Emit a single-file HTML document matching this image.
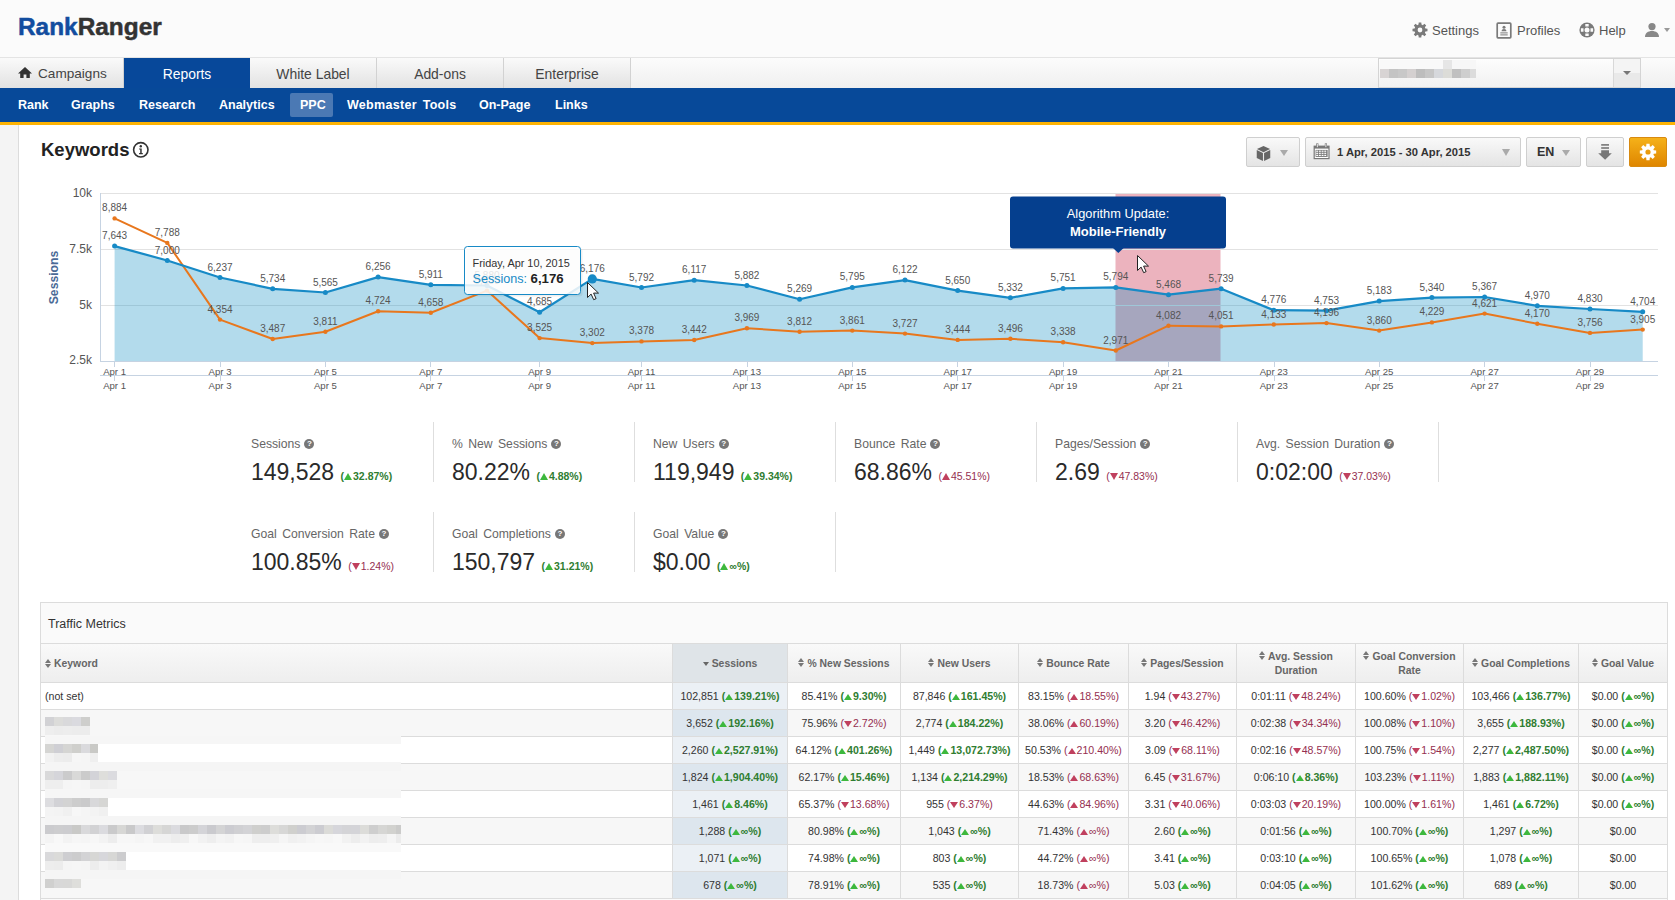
<!DOCTYPE html><html><head><meta charset="utf-8"><title>Rank Ranger</title><style>
*{box-sizing:border-box;margin:0;padding:0}
html,body{width:1675px;height:900px;overflow:hidden;background:#fff}
body{font-family:"Liberation Sans",sans-serif;color:#333;position:relative}
.a{position:absolute;white-space:nowrap}
#hdr{position:absolute;left:0;top:0;width:1675px;height:58px;background:#fbfbfb}
#logo{left:18px;top:12.5px;font-size:24.4px;font-weight:bold;line-height:28px;letter-spacing:0px;-webkit-text-stroke:0.5px}
#logo .r1{color:#124d9f}#logo .r2{color:#333}
.tl{font-size:13px;color:#555;top:23px;line-height:16px}
#tabs{position:absolute;left:0;top:57px;width:1675px;height:31px;background:linear-gradient(#fcfcfc,#efefef);border-top:1px solid #e4e4e4}
.tab{position:absolute;top:0;height:30px;font-size:13.9px;color:#444;text-align:center;line-height:32px;background:linear-gradient(#fafafa,#e2e2e2);border-right:1px solid #d2d2d2}
.tab.on{background:#07489a;color:#fff;border-right:none}
#nav{position:absolute;left:0;top:88px;width:1675px;height:34px;background:#074999}
#ybar{position:absolute;left:0;top:122px;width:1675px;height:3px;background:#fdb304}
.nv{position:absolute;top:88px;height:34px;line-height:34px;font-size:12.5px;font-weight:bold;color:#fff}
#ppc{position:absolute;left:290px;top:93px;width:43px;height:24px;background:#4b79b4;border-radius:2px}
#side{position:absolute;left:0;top:125px;width:19px;height:775px;background:#f4f4f4;border-right:1px solid #dcdcdc}
.btn{position:absolute;top:137px;height:30px;border:1px solid #cfcfcf;border-radius:2px;background:linear-gradient(#f9f9f9,#e4e4e4)}
.car{position:absolute;width:0;height:0;border-left:4px solid transparent;border-right:4px solid transparent;border-top:6px solid #999}
.ml{font-size:12.2px;color:#666;line-height:16px;word-spacing:2px}
.mv{font-size:23px;color:#2a2a2a;line-height:28px}
.mc{font-size:10.5px;font-weight:bold;color:#2f7d31}
.mc.red{font-weight:normal;color:#952f50}
.qi{display:inline-block;width:10px;height:10px;border-radius:50%;background:#777;color:#fff;font-size:8px;line-height:10px;text-align:center;font-weight:bold;vertical-align:2px;margin-left:4px}
.vd{position:absolute;width:1px;background:#dedede}
.up{display:inline-block;width:0;height:0;border-left:4px solid transparent;border-right:4px solid transparent;border-bottom:7px solid #3db83d;vertical-align:0px;margin:0 1px 0 0}
.dn{display:inline-block;width:0;height:0;border-left:4px solid transparent;border-right:4px solid transparent;border-top:7px solid #c0405e;vertical-align:0px;margin:0 1px 0 0}
.upr{border-bottom-color:#c0405e}
</style></head><body>
<div id="hdr"></div>
<div id="logo" class="a"><span class="r1">Rank</span><span class="r2">Ranger</span></div>
<svg class="a" style="left:1411.5px;top:22px" width="16" height="16" viewBox="0 0 16 16"><path fill="#7a7a7a" fill-rule="evenodd" d="M13.40 6.52 L15.49 6.71 L15.49 9.29 L13.40 9.48 L12.86 10.77 L14.21 12.38 L12.38 14.21 L10.77 12.86 L9.48 13.40 L9.29 15.49 L6.71 15.49 L6.52 13.40 L5.23 12.86 L3.62 14.21 L1.79 12.38 L3.14 10.77 L2.60 9.48 L0.51 9.29 L0.51 6.71 L2.60 6.52 L3.14 5.23 L1.79 3.62 L3.62 1.79 L5.23 3.14 L6.52 2.60 L6.71 0.51 L9.29 0.51 L9.48 2.60 L10.77 3.14 L12.38 1.79 L14.21 3.62 L12.86 5.23Z M10.40 8.00 A2.4 2.4 0 1 0 5.60 8.00 A2.4 2.4 0 1 0 10.40 8.00Z"/></svg>
<div class="a tl" style="left:1432px">Settings</div>
<svg class="a" style="left:1496px;top:22px" width="17" height="17" viewBox="0 0 17 17"><rect x="1.2" y="1.2" width="13.6" height="14.6" rx="0.8" fill="none" stroke="#7a7a7a" stroke-width="1.7"/><circle cx="8" cy="5.3" r="1.5" fill="#7a7a7a"/><path d="M5.6 9.2c0-1.4 1-2.2 2.4-2.2s2.4.8 2.4 2.2z" fill="#7a7a7a"/><rect x="4.3" y="10.4" width="7.4" height="1" fill="#7a7a7a"/><rect x="4.3" y="12.4" width="7.4" height="1" fill="#7a7a7a"/></svg>
<div class="a tl" style="left:1517px">Profiles</div>
<svg class="a" style="left:1579px;top:22px" width="16" height="16" viewBox="0 0 16 16"><circle cx="8" cy="8" r="7.6" fill="#7a7a7a"/><circle cx="8" cy="8" r="2.5" fill="#fbfbfb"/><path d="M6.3 1.9h3.4v2.6H6.3zM6.3 11.5h3.4v2.6H6.3zM1.9 6.3h2.6v3.4H1.9zM11.5 6.3h2.6v3.4h-2.6z" fill="#fbfbfb"/></svg>
<div class="a tl" style="left:1599px">Help</div>
<svg class="a" style="left:1644px;top:22px" width="16" height="16" viewBox="0 0 16 16"><circle cx="8" cy="4.6" r="3.6" fill="#888"/><path d="M1 15c0-4 3-6 7-6s7 2 7 6z" fill="#888"/></svg>
<div class="car" style="left:1664px;top:28px;border-left-width:3px;border-right-width:3px;border-top-width:4px;border-top-color:#999"></div>
<div id="tabs">
<div class="tab" style="left:0px;width:124px"><svg style="position:absolute;left:18px;top:9px" width="14" height="11" viewBox="0 0 14 11"><path d="M7 0 0 6.4h2.2V11h3.4V7.6h2.8V11h3.4V6.4H14z" fill="#333"/></svg><span style="position:absolute;left:38px;font-size:13.6px">Campaigns</span></div>
<div class="tab on" style="left:124px;width:126px">Reports</div>
<div class="tab" style="left:250px;width:127px">White Label</div>
<div class="tab" style="left:377px;width:127px">Add-ons</div>
<div class="tab" style="left:504px;width:127px">Enterprise</div>
</div>
<div class="a" style="left:1378px;top:58px;width:263px;height:30px;background:linear-gradient(#fdfdfd,#f1f1f1);border:1px solid #d4d4d4"></div>
<div class="a" style="left:1613px;top:59px;width:27px;height:28px;background:linear-gradient(#f4f4f4 50%,#e9e9e9 50%);border-left:1px solid #d8d8d8"></div>
<div class="car" style="left:1623px;top:71px;border-left-width:4px;border-right-width:4px;border-top-width:4px;border-top-color:#777"></div>
<div class="a" style="left:1380px;top:60px;width:63px;height:9px;background:#f9f9f9"></div>
<div class="a" style="left:1452px;top:60px;width:24px;height:9px;background:#f7f7f7"></div>
<div class="a" style="left:1380px;top:69px;width:9px;height:9px;background:#d8d4d4"></div>
<div class="a" style="left:1389px;top:69px;width:9px;height:9px;background:#c4c4c4"></div>
<div class="a" style="left:1398px;top:69px;width:9px;height:9px;background:#c8c8c8"></div>
<div class="a" style="left:1407px;top:69px;width:9px;height:9px;background:#d4d0d0"></div>
<div class="a" style="left:1416px;top:69px;width:9px;height:9px;background:#bdbdbd"></div>
<div class="a" style="left:1425px;top:69px;width:9px;height:9px;background:#c6c6c6"></div>
<div class="a" style="left:1434px;top:69px;width:9px;height:9px;background:#d6d8dc"></div>
<div class="a" style="left:1443px;top:69px;width:9px;height:9px;background:#dcdcd8"></div>
<div class="a" style="left:1452px;top:69px;width:9px;height:9px;background:#c0c0c0"></div>
<div class="a" style="left:1461px;top:69px;width:9px;height:9px;background:#cecece"></div>
<div class="a" style="left:1470px;top:69px;width:6px;height:9px;background:#dcdcdc"></div>
<div class="a" style="left:1443px;top:60px;width:9px;height:9px;background:#e6e6e6"></div>
<div id="nav"></div><div id="ybar"></div><div id="ppc"></div>
<div class="nv" style="left:18px">Rank</div>
<div class="nv" style="left:71px">Graphs</div>
<div class="nv" style="left:139px">Research</div>
<div class="nv" style="left:219px">Analytics</div>
<div class="nv" style="left:300px">PPC</div>
<div class="nv" style="left:347px"><span style="word-spacing:2px;letter-spacing:0.3px">Webmaster Tools</span></div>
<div class="nv" style="left:479px">On-Page</div>
<div class="nv" style="left:555px">Links</div>
<div id="side"></div>
<div class="a" style="left:41px;top:139px;font-size:18.5px;font-weight:bold;color:#222;line-height:22px">Keywords</div>
<svg class="a" style="left:132px;top:141px" width="17" height="17" viewBox="0 0 17 17"><circle cx="8.8" cy="8.8" r="7.2" fill="none" stroke="#333" stroke-width="1.6"/><circle cx="8.8" cy="5.2" r="1.2" fill="#333"/><path d="M7.1 7.4h2.6v4.5h1.1v1.3H7.1v-1.3h1.1V8.6H7.1z" fill="#333"/></svg>
<div class="btn" style="left:1246px;width:54px"></div>
<svg class="a" style="left:1256px;top:145px" width="15" height="17" viewBox="0 0 16 17"><path d="M8 0.5 15 3.8 8 7.1 1 3.8z" fill="#666"/><path d="M0.8 4.8 7.4 8v8.4L0.8 13.2z" fill="#666"/><path d="M15.2 4.8 8.6 8v8.4l6.6-3.2z" fill="#666"/></svg>
<div class="car" style="left:1280px;top:150px;border-left-width:4px;border-right-width:4px;border-top-width:6px;border-top-color:#aaa"></div>
<div class="btn" style="left:1305px;width:216px"></div>
<svg class="a" style="left:1313px;top:143px" width="18" height="17" viewBox="0 0 18 17"><rect x="0.6" y="2.6" width="16" height="13.6" fill="#777"/><rect x="1.8" y="5.6" width="13.6" height="9.4" fill="#fff"/><rect x="2.6" y="6.9" width="12" height="7" fill="#777"/><rect x="3.2" y="7.6" width="1.9" height="1.2" fill="#fff"/><rect x="5.9" y="7.6" width="1.9" height="1.2" fill="#fff"/><rect x="8.6" y="7.6" width="1.9" height="1.2" fill="#fff"/><rect x="11.3" y="7.6" width="1.9" height="1.2" fill="#fff"/><rect x="3.2" y="9.7" width="1.9" height="1.2" fill="#fff"/><rect x="5.9" y="9.7" width="1.9" height="1.2" fill="#fff"/><rect x="8.6" y="9.7" width="1.9" height="1.2" fill="#fff"/><rect x="11.3" y="9.7" width="1.9" height="1.2" fill="#fff"/><rect x="3.2" y="11.8" width="1.9" height="1.2" fill="#fff"/><rect x="5.9" y="11.8" width="1.9" height="1.2" fill="#fff"/><rect x="8.6" y="11.8" width="1.9" height="1.2" fill="#fff"/><rect x="11.3" y="11.8" width="1.9" height="1.2" fill="#fff"/><rect x="3.2" y="0.4" width="2.2" height="4.4" fill="#777"/><rect x="11.8" y="0.4" width="2.2" height="4.4" fill="#777"/><rect x="3.9" y="1" width="0.8" height="3.2" fill="#fff"/><rect x="12.5" y="1" width="0.8" height="3.2" fill="#fff"/></svg>
<div class="a" style="left:1337px;top:145px;font-size:11.2px;font-weight:bold;color:#333;line-height:14px">1 Apr, 2015 - 30 Apr, 2015</div>
<div class="car" style="left:1502px;top:149px;border-left-width:4px;border-right-width:4px;border-top-width:7px;border-top-color:#aaa"></div>
<div class="btn" style="left:1526px;width:55px"></div>
<div class="a" style="left:1537px;top:144px;font-size:12.5px;font-weight:bold;color:#333;line-height:16px">EN</div>
<div class="car" style="left:1562px;top:150px;border-left-width:4px;border-right-width:4px;border-top-width:6px;border-top-color:#aaa"></div>
<div class="btn" style="left:1586px;width:38px"></div>
<svg class="a" style="left:1597px;top:143px" width="16" height="18" viewBox="0 0 16 18"><rect x="4.2" y="1.1" width="7.8" height="1.6" fill="#777"/><rect x="4.2" y="4.2" width="7.8" height="1.6" fill="#777"/><path d="M4.2 7.3h7.8v3h2.8L8.1 16.8 1.2 10.3h3z" fill="#777"/></svg>
<div class="a" style="left:1629px;top:137px;width:38px;height:30px;border-radius:2px;background:linear-gradient(#f5b119,#df8600);border:1px solid #d88a10"></div>
<svg class="a" style="left:1639px;top:143px" width="18" height="18" viewBox="0 0 16 16"><path fill="#fff" fill-rule="evenodd" d="M13.16 6.41 L15.27 6.61 L15.27 9.39 L13.16 9.59 L12.77 10.53 L14.12 12.16 L12.16 14.12 L10.53 12.77 L9.59 13.16 L9.39 15.27 L6.61 15.27 L6.41 13.16 L5.47 12.77 L3.84 14.12 L1.88 12.16 L3.23 10.53 L2.84 9.59 L0.73 9.39 L0.73 6.61 L2.84 6.41 L3.23 5.47 L1.88 3.84 L3.84 1.88 L5.47 3.23 L6.41 2.84 L6.61 0.73 L9.39 0.73 L9.59 2.84 L10.53 3.23 L12.16 1.88 L14.12 3.84 L12.77 5.47Z M10.30 8.00 A2.3 2.3 0 1 0 5.70 8.00 A2.3 2.3 0 1 0 10.30 8.00Z"/></svg>
<svg class="a" style="left:0;top:0" width="1675" height="400" viewBox="0 0 1675 400"><rect x="1115.5" y="194" width="105" height="167" fill="#ecb3be"/><path d="M100 193.5H1658" stroke="#e2e2e2" stroke-width="1"/><path d="M100 249.5H1658" stroke="#e2e2e2" stroke-width="1"/><path d="M100 305.5H1658" stroke="#e2e2e2" stroke-width="1"/><path d="M114.6 361 L114.6 246.1 L167.3 260.5 L220.0 277.5 L272.7 288.8 L325.4 292.5 L378.1 277.1 L430.8 284.8 L487.0 285.5 L539.6 312.2 L592.3 278.9 L641.5 287.5 L694.2 280.2 L746.9 285.5 L799.6 299.2 L852.3 287.4 L905.0 280.1 L957.7 290.6 L1010.4 297.8 L1063.1 288.4 L1115.8 287.4 L1168.5 294.7 L1221.1 288.7 L1273.8 310.2 L1326.5 310.7 L1379.2 301.1 L1431.9 297.6 L1484.6 297.0 L1537.3 305.8 L1590.0 309.0 L1642.7 311.8 L1642.7 361Z" fill="rgb(2,135,192)" fill-opacity="0.30"/><path d="M100.5 193V361" stroke="#c6d3e2" stroke-width="1"/><path d="M100 361.5H1658M100 375.5H1658" stroke="#c6d3e2" stroke-width="1"/><path d="M114.5 361V367M114.5 375V381" stroke="#c6d3e2" stroke-width="1"/><path d="M220.5 361V367M220.5 375V381" stroke="#c6d3e2" stroke-width="1"/><path d="M325.5 361V367M325.5 375V381" stroke="#c6d3e2" stroke-width="1"/><path d="M430.5 361V367M430.5 375V381" stroke="#c6d3e2" stroke-width="1"/><path d="M539.5 361V367M539.5 375V381" stroke="#c6d3e2" stroke-width="1"/><path d="M641.5 361V367M641.5 375V381" stroke="#c6d3e2" stroke-width="1"/><path d="M747.5 361V367M747.5 375V381" stroke="#c6d3e2" stroke-width="1"/><path d="M852.5 361V367M852.5 375V381" stroke="#c6d3e2" stroke-width="1"/><path d="M957.5 361V367M957.5 375V381" stroke="#c6d3e2" stroke-width="1"/><path d="M1063.5 361V367M1063.5 375V381" stroke="#c6d3e2" stroke-width="1"/><path d="M1168.5 361V367M1168.5 375V381" stroke="#c6d3e2" stroke-width="1"/><path d="M1274.5 361V367M1274.5 375V381" stroke="#c6d3e2" stroke-width="1"/><path d="M1379.5 361V367M1379.5 375V381" stroke="#c6d3e2" stroke-width="1"/><path d="M1484.5 361V367M1484.5 375V381" stroke="#c6d3e2" stroke-width="1"/><path d="M1590.5 361V367M1590.5 375V381" stroke="#c6d3e2" stroke-width="1"/><path d="M114.6 218.4 L167.3 242.9 L220.0 319.6 L272.7 339.0 L325.4 331.7 L378.1 311.3 L430.8 312.8 L487.0 290.6 L539.6 338.1 L592.3 343.1 L641.5 341.4 L694.2 340.0 L746.9 328.2 L799.6 331.7 L852.3 330.6 L905.0 333.6 L957.7 339.9 L1010.4 338.8 L1063.1 342.3 L1115.8 350.5 L1168.5 325.7 L1221.1 326.4 L1273.8 324.5 L1326.5 323.1 L1379.2 330.6 L1431.9 322.4 L1484.6 313.6 L1537.3 323.7 L1590.0 332.9 L1642.7 329.6" fill="none" stroke="#e8771d" stroke-width="2" stroke-linejoin="round"/><path d="M114.6 246.1 L167.3 260.5 L220.0 277.5 L272.7 288.8 L325.4 292.5 L378.1 277.1 L430.8 284.8 L487.0 285.5 L539.6 312.2 L592.3 278.9 L641.5 287.5 L694.2 280.2 L746.9 285.5 L799.6 299.2 L852.3 287.4 L905.0 280.1 L957.7 290.6 L1010.4 297.8 L1063.1 288.4 L1115.8 287.4 L1168.5 294.7 L1221.1 288.7 L1273.8 310.2 L1326.5 310.7 L1379.2 301.1 L1431.9 297.6 L1484.6 297.0 L1537.3 305.8 L1590.0 309.0 L1642.7 311.8" fill="none" stroke="#178ac6" stroke-width="2.2" stroke-linejoin="round"/><circle cx="114.6" cy="218.4" r="2.2" fill="#e8771d"/><circle cx="167.3" cy="242.9" r="2.2" fill="#e8771d"/><circle cx="220.0" cy="319.6" r="2.2" fill="#e8771d"/><circle cx="272.7" cy="339.0" r="2.2" fill="#e8771d"/><circle cx="325.4" cy="331.7" r="2.2" fill="#e8771d"/><circle cx="378.1" cy="311.3" r="2.2" fill="#e8771d"/><circle cx="430.8" cy="312.8" r="2.2" fill="#e8771d"/><circle cx="487.0" cy="290.6" r="2.2" fill="#e8771d"/><circle cx="539.6" cy="338.1" r="2.2" fill="#e8771d"/><circle cx="592.3" cy="343.1" r="2.2" fill="#e8771d"/><circle cx="641.5" cy="341.4" r="2.2" fill="#e8771d"/><circle cx="694.2" cy="340.0" r="2.2" fill="#e8771d"/><circle cx="746.9" cy="328.2" r="2.2" fill="#e8771d"/><circle cx="799.6" cy="331.7" r="2.2" fill="#e8771d"/><circle cx="852.3" cy="330.6" r="2.2" fill="#e8771d"/><circle cx="905.0" cy="333.6" r="2.2" fill="#e8771d"/><circle cx="957.7" cy="339.9" r="2.2" fill="#e8771d"/><circle cx="1010.4" cy="338.8" r="2.2" fill="#e8771d"/><circle cx="1063.1" cy="342.3" r="2.2" fill="#e8771d"/><circle cx="1115.8" cy="350.5" r="2.2" fill="#e8771d"/><circle cx="1168.5" cy="325.7" r="2.2" fill="#e8771d"/><circle cx="1221.1" cy="326.4" r="2.2" fill="#e8771d"/><circle cx="1273.8" cy="324.5" r="2.2" fill="#e8771d"/><circle cx="1326.5" cy="323.1" r="2.2" fill="#e8771d"/><circle cx="1379.2" cy="330.6" r="2.2" fill="#e8771d"/><circle cx="1431.9" cy="322.4" r="2.2" fill="#e8771d"/><circle cx="1484.6" cy="313.6" r="2.2" fill="#e8771d"/><circle cx="1537.3" cy="323.7" r="2.2" fill="#e8771d"/><circle cx="1590.0" cy="332.9" r="2.2" fill="#e8771d"/><circle cx="1642.7" cy="329.6" r="2.2" fill="#e8771d"/><circle cx="114.6" cy="246.1" r="2.5" fill="#178ac6"/><circle cx="167.3" cy="260.5" r="2.5" fill="#178ac6"/><circle cx="220.0" cy="277.5" r="2.5" fill="#178ac6"/><circle cx="272.7" cy="288.8" r="2.5" fill="#178ac6"/><circle cx="325.4" cy="292.5" r="2.5" fill="#178ac6"/><circle cx="378.1" cy="277.1" r="2.5" fill="#178ac6"/><circle cx="430.8" cy="284.8" r="2.5" fill="#178ac6"/><circle cx="487.0" cy="285.5" r="2.5" fill="#178ac6"/><circle cx="539.6" cy="312.2" r="2.5" fill="#178ac6"/><circle cx="592.3" cy="278.9" r="4.6" fill="#178ac6"/><circle cx="641.5" cy="287.5" r="2.5" fill="#178ac6"/><circle cx="694.2" cy="280.2" r="2.5" fill="#178ac6"/><circle cx="746.9" cy="285.5" r="2.5" fill="#178ac6"/><circle cx="799.6" cy="299.2" r="2.5" fill="#178ac6"/><circle cx="852.3" cy="287.4" r="2.5" fill="#178ac6"/><circle cx="905.0" cy="280.1" r="2.5" fill="#178ac6"/><circle cx="957.7" cy="290.6" r="2.5" fill="#178ac6"/><circle cx="1010.4" cy="297.8" r="2.5" fill="#178ac6"/><circle cx="1063.1" cy="288.4" r="2.5" fill="#178ac6"/><circle cx="1115.8" cy="287.4" r="2.5" fill="#178ac6"/><circle cx="1168.5" cy="294.7" r="2.5" fill="#178ac6"/><circle cx="1221.1" cy="288.7" r="2.5" fill="#178ac6"/><circle cx="1273.8" cy="310.2" r="2.5" fill="#178ac6"/><circle cx="1326.5" cy="310.7" r="2.5" fill="#178ac6"/><circle cx="1379.2" cy="301.1" r="2.5" fill="#178ac6"/><circle cx="1431.9" cy="297.6" r="2.5" fill="#178ac6"/><circle cx="1484.6" cy="297.0" r="2.5" fill="#178ac6"/><circle cx="1537.3" cy="305.8" r="2.5" fill="#178ac6"/><circle cx="1590.0" cy="309.0" r="2.5" fill="#178ac6"/><circle cx="1642.7" cy="311.8" r="2.5" fill="#178ac6"/><g font-family="Liberation Sans" font-size="10" fill="#555" text-anchor="middle"><text x="114.6" y="211.4">8,884</text><text x="167.3" y="235.9">7,788</text><text x="220.0" y="312.6">4,354</text><text x="272.7" y="332.0">3,487</text><text x="325.4" y="324.7">3,811</text><text x="378.1" y="304.3">4,724</text><text x="430.8" y="305.8">4,658</text><text x="487.0" y="283.6">5,650</text><text x="539.6" y="331.1">3,525</text><text x="592.3" y="336.1">3,302</text><text x="641.5" y="334.4">3,378</text><text x="694.2" y="333.0">3,442</text><text x="746.9" y="321.2">3,969</text><text x="799.6" y="324.7">3,812</text><text x="852.3" y="323.6">3,861</text><text x="905.0" y="326.6">3,727</text><text x="957.7" y="332.9">3,444</text><text x="1010.4" y="331.8">3,496</text><text x="1063.1" y="335.3">3,338</text><text x="1115.8" y="343.5">2,971</text><text x="1168.5" y="318.7">4,082</text><text x="1221.1" y="319.4">4,051</text><text x="1273.8" y="317.5">4,133</text><text x="1326.5" y="316.1">4,196</text><text x="1379.2" y="323.6">3,860</text><text x="1431.9" y="315.4">4,229</text><text x="1484.6" y="306.6">4,621</text><text x="1537.3" y="316.7">4,170</text><text x="1590.0" y="325.9">3,756</text><text x="1642.7" y="322.6">3,905</text><text x="114.6" y="239.1">7,643</text><text x="167.3" y="253.5">7,000</text><text x="220.0" y="270.5">6,237</text><text x="272.7" y="281.8">5,734</text><text x="325.4" y="285.5">5,565</text><text x="378.1" y="270.1">6,256</text><text x="430.8" y="277.8">5,911</text><text x="487.0" y="278.5">5,880</text><text x="539.6" y="305.2">4,685</text><text x="592.3" y="271.9">6,176</text><text x="641.5" y="280.5">5,792</text><text x="694.2" y="273.2">6,117</text><text x="746.9" y="278.5">5,882</text><text x="799.6" y="292.2">5,269</text><text x="852.3" y="280.4">5,795</text><text x="905.0" y="273.1">6,122</text><text x="957.7" y="283.6">5,650</text><text x="1010.4" y="290.8">5,332</text><text x="1063.1" y="281.4">5,751</text><text x="1115.8" y="280.4">5,794</text><text x="1168.5" y="287.7">5,468</text><text x="1221.1" y="281.7">5,739</text><text x="1273.8" y="303.2">4,776</text><text x="1326.5" y="303.7">4,753</text><text x="1379.2" y="294.1">5,183</text><text x="1431.9" y="290.6">5,340</text><text x="1484.6" y="290.0">5,367</text><text x="1537.3" y="298.8">4,970</text><text x="1590.0" y="302.0">4,830</text><text x="1642.7" y="304.8">4,704</text></g><g font-family="Liberation Sans" font-size="12" fill="#555" text-anchor="end"><text x="92" y="196.8">10k</text><text x="92" y="252.8">7.5k</text><text x="92" y="308.8">5k</text><text x="92" y="364.3">2.5k</text></g><text transform="translate(58 277.5) rotate(-90)" font-family="Liberation Sans" font-size="12.2" font-weight="bold" fill="#4a6a96" text-anchor="middle">Sessions</text><g font-family="Liberation Sans" font-size="9.6" fill="#555" text-anchor="middle"><text x="114.6" y="375">Apr 1</text><text x="114.6" y="389">Apr 1</text><text x="220.0" y="375">Apr 3</text><text x="220.0" y="389">Apr 3</text><text x="325.4" y="375">Apr 5</text><text x="325.4" y="389">Apr 5</text><text x="430.8" y="375">Apr 7</text><text x="430.8" y="389">Apr 7</text><text x="539.6" y="375">Apr 9</text><text x="539.6" y="389">Apr 9</text><text x="641.5" y="375">Apr 11</text><text x="641.5" y="389">Apr 11</text><text x="746.9" y="375">Apr 13</text><text x="746.9" y="389">Apr 13</text><text x="852.3" y="375">Apr 15</text><text x="852.3" y="389">Apr 15</text><text x="957.7" y="375">Apr 17</text><text x="957.7" y="389">Apr 17</text><text x="1063.1" y="375">Apr 19</text><text x="1063.1" y="389">Apr 19</text><text x="1168.5" y="375">Apr 21</text><text x="1168.5" y="389">Apr 21</text><text x="1273.8" y="375">Apr 23</text><text x="1273.8" y="389">Apr 23</text><text x="1379.2" y="375">Apr 25</text><text x="1379.2" y="389">Apr 25</text><text x="1484.6" y="375">Apr 27</text><text x="1484.6" y="389">Apr 27</text><text x="1590.0" y="375">Apr 29</text><text x="1590.0" y="389">Apr 29</text></g><rect x="1010" y="196.5" width="216" height="52" rx="3" fill="#053f8e"/><path d="M1113 248 L1118.3 253 L1123.6 248Z" fill="#053f8e"/><text x="1118" y="218" font-family="Liberation Sans" font-size="12.8" fill="#fff" text-anchor="middle">Algorithm Update:</text><text x="1118" y="235.5" font-family="Liberation Sans" font-size="13" font-weight="bold" fill="#fff" text-anchor="middle">Mobile-Friendly</text><rect x="466.5" y="248.5" width="116" height="48" rx="3" fill="#000" fill-opacity="0.06"/><rect x="464.5" y="246.5" width="116" height="48" rx="3" fill="#fff" fill-opacity="0.85" stroke="#178ac6" stroke-width="1"/><text x="472.5" y="267" font-family="Liberation Sans" font-size="10.9" fill="#333">Friday, Apr 10, 2015</text><text x="472.5" y="283" font-family="Liberation Sans" font-size="12.6" fill="#178ac6">Sessions: <tspan font-weight="bold" fill="#222" font-size="13.2">6,176</tspan></text><path transform="translate(587.5 282.5)" d="M0 0V15L3.6 11.6 6.2 17.2 8.6 16.1 6.1 10.6H11Z" fill="#fff" stroke="#222" stroke-width="1" stroke-linejoin="round"/><path transform="translate(1137.5 255.5)" d="M0 0V15L3.6 11.6 6.2 17.2 8.6 16.1 6.1 10.6H11Z" fill="#fff" stroke="#222" stroke-width="1" stroke-linejoin="round"/></svg>
<div class="a ml" style="left:251px;top:436px">Sessions<span class="qi">?</span></div>
<div class="a mv" style="left:251px;top:458px">149,528 <span class="mc">(<span class="up"></span>32.87%)</span></div>
<div class="vd" style="left:433px;top:422px;height:60px"></div>
<div class="a ml" style="left:452px;top:436px">% New Sessions<span class="qi">?</span></div>
<div class="a mv" style="left:452px;top:458px">80.22% <span class="mc">(<span class="up"></span>4.88%)</span></div>
<div class="vd" style="left:634px;top:422px;height:60px"></div>
<div class="a ml" style="left:653px;top:436px">New Users<span class="qi">?</span></div>
<div class="a mv" style="left:653px;top:458px">119,949 <span class="mc">(<span class="up"></span>39.34%)</span></div>
<div class="vd" style="left:835px;top:422px;height:60px"></div>
<div class="a ml" style="left:854px;top:436px">Bounce Rate<span class="qi">?</span></div>
<div class="a mv" style="left:854px;top:458px">68.86% <span class="mc red">(<span class="up upr"></span>45.51%)</span></div>
<div class="vd" style="left:1036px;top:422px;height:60px"></div>
<div class="a ml" style="left:1055px;top:436px">Pages/Session<span class="qi">?</span></div>
<div class="a mv" style="left:1055px;top:458px">2.69 <span class="mc red">(<span class="dn"></span>47.83%)</span></div>
<div class="vd" style="left:1237px;top:422px;height:60px"></div>
<div class="a ml" style="left:1256px;top:436px">Avg. Session Duration<span class="qi">?</span></div>
<div class="a mv" style="left:1256px;top:458px">0:02:00 <span class="mc red">(<span class="dn"></span>37.03%)</span></div>
<div class="vd" style="left:1438px;top:422px;height:60px"></div>
<div class="a ml" style="left:251px;top:526px">Goal Conversion Rate<span class="qi">?</span></div>
<div class="a mv" style="left:251px;top:548px">100.85% <span class="mc red">(<span class="dn"></span>1.24%)</span></div>
<div class="vd" style="left:433px;top:512px;height:60px"></div>
<div class="a ml" style="left:452px;top:526px">Goal Completions<span class="qi">?</span></div>
<div class="a mv" style="left:452px;top:548px">150,797 <span class="mc">(<span class="up"></span>31.21%)</span></div>
<div class="vd" style="left:634px;top:512px;height:60px"></div>
<div class="a ml" style="left:653px;top:526px">Goal Value<span class="qi">?</span></div>
<div class="a mv" style="left:653px;top:548px">$0.00 <span class="mc">(<span class="up"></span>∞%)</span></div>
<div class="vd" style="left:835px;top:512px;height:60px"></div>
<style>
#tbox{position:absolute;left:40px;top:602px;width:1628px;height:300px;border:1px solid #dcdcdc;background:#fafafa}
.th{position:absolute;top:643px;height:40px;border-top:1px solid #dcdcdc;border-bottom:1px solid #dcdcdc;border-right:1px solid #dcdcdc;background:linear-gradient(#f9f9f9,#eeeeee);font-size:10.4px;font-weight:bold;color:#666;text-align:center;display:flex;align-items:center;justify-content:center;line-height:14px;white-space:normal;padding-top:1px}
.th.on{background:#dfe4e8}
.td{position:absolute;height:27px;border-bottom:1px solid #dcdcdc;border-right:1px solid #dcdcdc;font-size:10.6px;color:#333;text-align:center;line-height:27px;white-space:nowrap}
.sa{display:inline-block;width:6px;height:10px;position:relative;margin-right:3px;vertical-align:-1px}
.sa:before{content:"";position:absolute;left:0;top:0;border-left:3px solid transparent;border-right:3px solid transparent;border-bottom:4px solid #777}
.sa:after{content:"";position:absolute;left:0;top:5.5px;border-left:3px solid transparent;border-right:3px solid transparent;border-top:4px solid #777}
.sd{display:inline-block;width:0;height:0;border-left:3px solid transparent;border-right:3px solid transparent;border-top:4px solid #666;margin-right:3px;vertical-align:2px}
.g{font-weight:bold;color:#2f7d31}
.rd{color:#952f50}
.t1{display:inline-block;width:0;height:0;border-left:4px solid transparent;border-right:4px solid transparent;border-bottom:6.5px solid #3db83d;margin-right:1px;vertical-align:0}
.t2{display:inline-block;width:0;height:0;border-left:4px solid transparent;border-right:4px solid transparent;border-bottom:6.5px solid #c0405e;margin-right:1px;vertical-align:0}
.t3{display:inline-block;width:0;height:0;border-left:4px solid transparent;border-right:4px solid transparent;border-top:6.5px solid #c0405e;margin-right:1px;vertical-align:0}
.kb{position:absolute;height:9px}
</style>
<div id="tbox"></div>
<div class="a" style="left:48px;top:616px;font-size:12.5px;color:#333;line-height:16px">Traffic Metrics</div>
<div class="th" style="left:41px;width:632px;justify-content:flex-start;padding-left:4px"><span class="sa"></span>Keyword</div>
<div class="th on" style="left:673px;width:115px"><span class="sd"></span>Sessions</div>
<div class="th" style="left:788px;width:113px"><div style="text-align:center"><span class="sa"></span>% New Sessions</div></div>
<div class="th" style="left:901px;width:118px"><div style="text-align:center"><span class="sa"></span>New Users</div></div>
<div class="th" style="left:1019px;width:110px"><div style="text-align:center"><span class="sa"></span>Bounce Rate</div></div>
<div class="th" style="left:1129px;width:108px"><div style="text-align:center"><span class="sa"></span>Pages/Session</div></div>
<div class="th" style="left:1237px;width:119px"><div style="text-align:center"><span class="sa"></span>Avg. Session<br>Duration</div></div>
<div class="th" style="left:1356px;width:108px"><div style="text-align:center"><span class="sa"></span>Goal Conversion<br>Rate</div></div>
<div class="th" style="left:1464px;width:115px"><div style="text-align:center"><span class="sa"></span>Goal Completions</div></div>
<div class="th" style="left:1579px;width:89px"><div style="text-align:center"><span class="sa"></span>Goal Value</div></div>
<div class="td" style="left:41px;top:683px;width:632px;background:#fff;text-align:left;padding-left:4px">(not set)</div>
<div class="td" style="left:673px;top:683px;width:115px;background:#ebf0f5">102,851 <span class="g">(<span class="t1"></span>139.21%)</span></div>
<div class="td" style="left:788px;top:683px;width:113px;background:#fff">85.41% <span class="g">(<span class="t1"></span>9.30%)</span></div>
<div class="td" style="left:901px;top:683px;width:118px;background:#fff">87,846 <span class="g">(<span class="t1"></span>161.45%)</span></div>
<div class="td" style="left:1019px;top:683px;width:110px;background:#fff">83.15% <span class="rd">(<span class="t2"></span>18.55%)</span></div>
<div class="td" style="left:1129px;top:683px;width:108px;background:#fff">1.94 <span class="rd">(<span class="t3"></span>43.27%)</span></div>
<div class="td" style="left:1237px;top:683px;width:119px;background:#fff">0:01:11 <span class="rd">(<span class="t3"></span>48.24%)</span></div>
<div class="td" style="left:1356px;top:683px;width:108px;background:#fff">100.60% <span class="rd">(<span class="t3"></span>1.02%)</span></div>
<div class="td" style="left:1464px;top:683px;width:115px;background:#fff">103,466 <span class="g">(<span class="t1"></span>136.77%)</span></div>
<div class="td" style="left:1579px;top:683px;width:89px;background:#fff">$0.00 <span class="g">(<span class="t1"></span>∞%)</span></div>
<div class="td" style="left:41px;top:710px;width:632px;background:#f7f7f7;text-align:left;padding-left:4px"></div>
<div class="td" style="left:673px;top:710px;width:115px;background:#dde6ee">3,652 <span class="g">(<span class="t1"></span>192.16%)</span></div>
<div class="td" style="left:788px;top:710px;width:113px;background:#f7f7f7">75.96% <span class="rd">(<span class="t3"></span>2.72%)</span></div>
<div class="td" style="left:901px;top:710px;width:118px;background:#f7f7f7">2,774 <span class="g">(<span class="t1"></span>184.22%)</span></div>
<div class="td" style="left:1019px;top:710px;width:110px;background:#f7f7f7">38.06% <span class="rd">(<span class="t2"></span>60.19%)</span></div>
<div class="td" style="left:1129px;top:710px;width:108px;background:#f7f7f7">3.20 <span class="rd">(<span class="t3"></span>46.42%)</span></div>
<div class="td" style="left:1237px;top:710px;width:119px;background:#f7f7f7">0:02:38 <span class="rd">(<span class="t3"></span>34.34%)</span></div>
<div class="td" style="left:1356px;top:710px;width:108px;background:#f7f7f7">100.08% <span class="rd">(<span class="t3"></span>1.10%)</span></div>
<div class="td" style="left:1464px;top:710px;width:115px;background:#f7f7f7">3,655 <span class="g">(<span class="t1"></span>188.93%)</span></div>
<div class="td" style="left:1579px;top:710px;width:89px;background:#f7f7f7">$0.00 <span class="g">(<span class="t1"></span>∞%)</span></div>
<div class="td" style="left:41px;top:737px;width:632px;background:#fff;text-align:left;padding-left:4px"></div>
<div class="td" style="left:673px;top:737px;width:115px;background:#ebf0f5">2,260 <span class="g">(<span class="t1"></span>2,527.91%)</span></div>
<div class="td" style="left:788px;top:737px;width:113px;background:#fff">64.12% <span class="g">(<span class="t1"></span>401.26%)</span></div>
<div class="td" style="left:901px;top:737px;width:118px;background:#fff">1,449 <span class="g">(<span class="t1"></span>13,072.73%)</span></div>
<div class="td" style="left:1019px;top:737px;width:110px;background:#fff">50.53% <span class="rd">(<span class="t2"></span>210.40%)</span></div>
<div class="td" style="left:1129px;top:737px;width:108px;background:#fff">3.09 <span class="rd">(<span class="t3"></span>68.11%)</span></div>
<div class="td" style="left:1237px;top:737px;width:119px;background:#fff">0:02:16 <span class="rd">(<span class="t3"></span>48.57%)</span></div>
<div class="td" style="left:1356px;top:737px;width:108px;background:#fff">100.75% <span class="rd">(<span class="t3"></span>1.54%)</span></div>
<div class="td" style="left:1464px;top:737px;width:115px;background:#fff">2,277 <span class="g">(<span class="t1"></span>2,487.50%)</span></div>
<div class="td" style="left:1579px;top:737px;width:89px;background:#fff">$0.00 <span class="g">(<span class="t1"></span>∞%)</span></div>
<div class="td" style="left:41px;top:764px;width:632px;background:#f7f7f7;text-align:left;padding-left:4px"></div>
<div class="td" style="left:673px;top:764px;width:115px;background:#dde6ee">1,824 <span class="g">(<span class="t1"></span>1,904.40%)</span></div>
<div class="td" style="left:788px;top:764px;width:113px;background:#f7f7f7">62.17% <span class="g">(<span class="t1"></span>15.46%)</span></div>
<div class="td" style="left:901px;top:764px;width:118px;background:#f7f7f7">1,134 <span class="g">(<span class="t1"></span>2,214.29%)</span></div>
<div class="td" style="left:1019px;top:764px;width:110px;background:#f7f7f7">18.53% <span class="rd">(<span class="t2"></span>68.63%)</span></div>
<div class="td" style="left:1129px;top:764px;width:108px;background:#f7f7f7">6.45 <span class="rd">(<span class="t3"></span>31.67%)</span></div>
<div class="td" style="left:1237px;top:764px;width:119px;background:#f7f7f7">0:06:10 <span class="g">(<span class="t1"></span>8.36%)</span></div>
<div class="td" style="left:1356px;top:764px;width:108px;background:#f7f7f7">103.23% <span class="rd">(<span class="t3"></span>1.11%)</span></div>
<div class="td" style="left:1464px;top:764px;width:115px;background:#f7f7f7">1,883 <span class="g">(<span class="t1"></span>1,882.11%)</span></div>
<div class="td" style="left:1579px;top:764px;width:89px;background:#f7f7f7">$0.00 <span class="g">(<span class="t1"></span>∞%)</span></div>
<div class="td" style="left:41px;top:791px;width:632px;background:#fff;text-align:left;padding-left:4px"></div>
<div class="td" style="left:673px;top:791px;width:115px;background:#ebf0f5">1,461 <span class="g">(<span class="t1"></span>8.46%)</span></div>
<div class="td" style="left:788px;top:791px;width:113px;background:#fff">65.37% <span class="rd">(<span class="t3"></span>13.68%)</span></div>
<div class="td" style="left:901px;top:791px;width:118px;background:#fff">955 <span class="rd">(<span class="t3"></span>6.37%)</span></div>
<div class="td" style="left:1019px;top:791px;width:110px;background:#fff">44.63% <span class="rd">(<span class="t2"></span>84.96%)</span></div>
<div class="td" style="left:1129px;top:791px;width:108px;background:#fff">3.31 <span class="rd">(<span class="t3"></span>40.06%)</span></div>
<div class="td" style="left:1237px;top:791px;width:119px;background:#fff">0:03:03 <span class="rd">(<span class="t3"></span>20.19%)</span></div>
<div class="td" style="left:1356px;top:791px;width:108px;background:#fff">100.00% <span class="rd">(<span class="t3"></span>1.61%)</span></div>
<div class="td" style="left:1464px;top:791px;width:115px;background:#fff">1,461 <span class="g">(<span class="t1"></span>6.72%)</span></div>
<div class="td" style="left:1579px;top:791px;width:89px;background:#fff">$0.00 <span class="g">(<span class="t1"></span>∞%)</span></div>
<div class="td" style="left:41px;top:818px;width:632px;background:#f7f7f7;text-align:left;padding-left:4px"></div>
<div class="td" style="left:673px;top:818px;width:115px;background:#dde6ee">1,288 <span class="g">(<span class="t1"></span>∞%)</span></div>
<div class="td" style="left:788px;top:818px;width:113px;background:#f7f7f7">80.98% <span class="g">(<span class="t1"></span>∞%)</span></div>
<div class="td" style="left:901px;top:818px;width:118px;background:#f7f7f7">1,043 <span class="g">(<span class="t1"></span>∞%)</span></div>
<div class="td" style="left:1019px;top:818px;width:110px;background:#f7f7f7">71.43% <span class="rd">(<span class="t2"></span>∞%)</span></div>
<div class="td" style="left:1129px;top:818px;width:108px;background:#f7f7f7">2.60 <span class="g">(<span class="t1"></span>∞%)</span></div>
<div class="td" style="left:1237px;top:818px;width:119px;background:#f7f7f7">0:01:56 <span class="g">(<span class="t1"></span>∞%)</span></div>
<div class="td" style="left:1356px;top:818px;width:108px;background:#f7f7f7">100.70% <span class="g">(<span class="t1"></span>∞%)</span></div>
<div class="td" style="left:1464px;top:818px;width:115px;background:#f7f7f7">1,297 <span class="g">(<span class="t1"></span>∞%)</span></div>
<div class="td" style="left:1579px;top:818px;width:89px;background:#f7f7f7">$0.00</div>
<div class="td" style="left:41px;top:845px;width:632px;background:#fff;text-align:left;padding-left:4px"></div>
<div class="td" style="left:673px;top:845px;width:115px;background:#ebf0f5">1,071 <span class="g">(<span class="t1"></span>∞%)</span></div>
<div class="td" style="left:788px;top:845px;width:113px;background:#fff">74.98% <span class="g">(<span class="t1"></span>∞%)</span></div>
<div class="td" style="left:901px;top:845px;width:118px;background:#fff">803 <span class="g">(<span class="t1"></span>∞%)</span></div>
<div class="td" style="left:1019px;top:845px;width:110px;background:#fff">44.72% <span class="rd">(<span class="t2"></span>∞%)</span></div>
<div class="td" style="left:1129px;top:845px;width:108px;background:#fff">3.41 <span class="g">(<span class="t1"></span>∞%)</span></div>
<div class="td" style="left:1237px;top:845px;width:119px;background:#fff">0:03:10 <span class="g">(<span class="t1"></span>∞%)</span></div>
<div class="td" style="left:1356px;top:845px;width:108px;background:#fff">100.65% <span class="g">(<span class="t1"></span>∞%)</span></div>
<div class="td" style="left:1464px;top:845px;width:115px;background:#fff">1,078 <span class="g">(<span class="t1"></span>∞%)</span></div>
<div class="td" style="left:1579px;top:845px;width:89px;background:#fff">$0.00</div>
<div class="td" style="left:41px;top:872px;width:632px;background:#f7f7f7;text-align:left;padding-left:4px"></div>
<div class="td" style="left:673px;top:872px;width:115px;background:#dde6ee">678 <span class="g">(<span class="t1"></span>∞%)</span></div>
<div class="td" style="left:788px;top:872px;width:113px;background:#f7f7f7">78.91% <span class="g">(<span class="t1"></span>∞%)</span></div>
<div class="td" style="left:901px;top:872px;width:118px;background:#f7f7f7">535 <span class="g">(<span class="t1"></span>∞%)</span></div>
<div class="td" style="left:1019px;top:872px;width:110px;background:#f7f7f7">18.73% <span class="rd">(<span class="t2"></span>∞%)</span></div>
<div class="td" style="left:1129px;top:872px;width:108px;background:#f7f7f7">5.03 <span class="g">(<span class="t1"></span>∞%)</span></div>
<div class="td" style="left:1237px;top:872px;width:119px;background:#f7f7f7">0:04:05 <span class="g">(<span class="t1"></span>∞%)</span></div>
<div class="td" style="left:1356px;top:872px;width:108px;background:#f7f7f7">101.62% <span class="g">(<span class="t1"></span>∞%)</span></div>
<div class="td" style="left:1464px;top:872px;width:115px;background:#f7f7f7">689 <span class="g">(<span class="t1"></span>∞%)</span></div>
<div class="td" style="left:1579px;top:872px;width:89px;background:#f7f7f7">$0.00</div>
<div class="kb" style="left:45px;top:736px;width:356px;height:8px;background:#f6f6f6"></div>
<div class="kb" style="left:45px;top:744px;width:356px;height:18px;background:#ffffff"></div>
<div class="kb" style="left:45px;top:762px;width:356px;height:9px;background:#f5f5f5"></div>
<div class="kb" style="left:45px;top:771px;width:356px;height:18px;background:#f7f7f7"></div>
<div class="kb" style="left:45px;top:789px;width:356px;height:9px;background:#f6f6f6"></div>
<div class="kb" style="left:45px;top:798px;width:356px;height:18px;background:#ffffff"></div>
<div class="kb" style="left:45px;top:816px;width:356px;height:9px;background:#f5f5f5"></div>
<div class="kb" style="left:45px;top:825px;width:356px;height:18px;background:#f7f7f7"></div>
<div class="kb" style="left:45px;top:843px;width:356px;height:9px;background:#f9f9f9"></div>
<div class="kb" style="left:45px;top:852px;width:356px;height:18px;background:#ffffff"></div>
<div class="kb" style="left:45px;top:870px;width:356px;height:9px;background:#f5f5f5"></div>
<div class="kb" style="left:45px;top:879px;width:356px;height:9px;background:#f7f7f7"></div>
<div class="kb" style="left:45px;top:717px;width:9px;background:rgb(210,210,213)"></div>
<div class="kb" style="left:45px;top:726px;width:9px;background:rgb(238,238,238)"></div>
<div class="kb" style="left:54px;top:717px;width:9px;background:rgb(220,220,218)"></div>
<div class="kb" style="left:54px;top:726px;width:9px;background:rgb(236,236,236)"></div>
<div class="kb" style="left:63px;top:717px;width:9px;background:rgb(217,217,219)"></div>
<div class="kb" style="left:63px;top:726px;width:9px;background:rgb(237,237,237)"></div>
<div class="kb" style="left:72px;top:717px;width:9px;background:rgb(218,218,223)"></div>
<div class="kb" style="left:72px;top:726px;width:9px;background:rgb(236,236,236)"></div>
<div class="kb" style="left:81px;top:717px;width:9px;background:rgb(206,206,204)"></div>
<div class="kb" style="left:81px;top:726px;width:9px;background:rgb(236,236,236)"></div>
<div class="kb" style="left:45px;top:744px;width:9px;background:rgb(213,213,211)"></div>
<div class="kb" style="left:45px;top:753px;width:9px;background:rgb(242,242,242)"></div>
<div class="kb" style="left:54px;top:744px;width:9px;background:rgb(207,207,212)"></div>
<div class="kb" style="left:54px;top:753px;width:9px;background:rgb(237,237,237)"></div>
<div class="kb" style="left:63px;top:744px;width:9px;background:rgb(213,213,211)"></div>
<div class="kb" style="left:63px;top:753px;width:9px;background:rgb(236,236,236)"></div>
<div class="kb" style="left:72px;top:744px;width:9px;background:rgb(207,207,204)"></div>
<div class="kb" style="left:72px;top:753px;width:9px;background:rgb(246,246,246)"></div>
<div class="kb" style="left:81px;top:744px;width:9px;background:rgb(218,218,221)"></div>
<div class="kb" style="left:81px;top:753px;width:9px;background:rgb(245,245,245)"></div>
<div class="kb" style="left:90px;top:744px;width:8px;background:rgb(201,201,198)"></div>
<div class="kb" style="left:90px;top:753px;width:8px;background:rgb(239,239,239)"></div>
<div class="kb" style="left:45px;top:771px;width:9px;background:rgb(217,217,218)"></div>
<div class="kb" style="left:45px;top:780px;width:9px;background:rgb(238,238,238)"></div>
<div class="kb" style="left:54px;top:771px;width:9px;background:rgb(213,213,218)"></div>
<div class="kb" style="left:54px;top:780px;width:9px;background:rgb(238,238,238)"></div>
<div class="kb" style="left:63px;top:771px;width:9px;background:rgb(203,203,204)"></div>
<div class="kb" style="left:63px;top:780px;width:9px;background:rgb(245,245,245)"></div>
<div class="kb" style="left:72px;top:771px;width:9px;background:rgb(217,217,216)"></div>
<div class="kb" style="left:72px;top:780px;width:9px;background:rgb(246,246,246)"></div>
<div class="kb" style="left:81px;top:771px;width:9px;background:rgb(203,203,203)"></div>
<div class="kb" style="left:81px;top:780px;width:9px;background:rgb(245,245,245)"></div>
<div class="kb" style="left:90px;top:771px;width:9px;background:rgb(211,211,216)"></div>
<div class="kb" style="left:90px;top:780px;width:9px;background:rgb(237,237,237)"></div>
<div class="kb" style="left:99px;top:771px;width:9px;background:rgb(222,222,219)"></div>
<div class="kb" style="left:99px;top:780px;width:9px;background:rgb(237,237,237)"></div>
<div class="kb" style="left:108px;top:771px;width:9px;background:rgb(219,219,223)"></div>
<div class="kb" style="left:108px;top:780px;width:9px;background:rgb(239,239,239)"></div>
<div class="kb" style="left:45px;top:798px;width:9px;background:rgb(221,221,224)"></div>
<div class="kb" style="left:45px;top:807px;width:9px;background:rgb(244,244,244)"></div>
<div class="kb" style="left:54px;top:798px;width:9px;background:rgb(210,210,214)"></div>
<div class="kb" style="left:54px;top:807px;width:9px;background:rgb(243,243,243)"></div>
<div class="kb" style="left:63px;top:798px;width:9px;background:rgb(211,211,211)"></div>
<div class="kb" style="left:63px;top:807px;width:9px;background:rgb(240,240,240)"></div>
<div class="kb" style="left:72px;top:798px;width:9px;background:rgb(205,205,205)"></div>
<div class="kb" style="left:72px;top:807px;width:9px;background:rgb(247,247,247)"></div>
<div class="kb" style="left:81px;top:798px;width:9px;background:rgb(202,202,203)"></div>
<div class="kb" style="left:81px;top:807px;width:9px;background:rgb(245,245,245)"></div>
<div class="kb" style="left:90px;top:798px;width:9px;background:rgb(216,216,218)"></div>
<div class="kb" style="left:90px;top:807px;width:9px;background:rgb(243,243,243)"></div>
<div class="kb" style="left:99px;top:798px;width:9px;background:rgb(214,214,212)"></div>
<div class="kb" style="left:99px;top:807px;width:9px;background:rgb(240,240,240)"></div>
<div class="kb" style="left:45px;top:825px;width:9px;background:rgb(203,203,206)"></div>
<div class="kb" style="left:45px;top:834px;width:9px;background:rgb(244,244,244)"></div>
<div class="kb" style="left:54px;top:825px;width:9px;background:rgb(205,205,207)"></div>
<div class="kb" style="left:54px;top:834px;width:9px;background:rgb(248,248,248)"></div>
<div class="kb" style="left:63px;top:825px;width:9px;background:rgb(204,204,207)"></div>
<div class="kb" style="left:63px;top:834px;width:9px;background:rgb(243,243,243)"></div>
<div class="kb" style="left:72px;top:825px;width:9px;background:rgb(201,201,199)"></div>
<div class="kb" style="left:72px;top:834px;width:9px;background:rgb(246,246,246)"></div>
<div class="kb" style="left:81px;top:825px;width:9px;background:rgb(217,217,219)"></div>
<div class="kb" style="left:81px;top:834px;width:9px;background:rgb(245,245,245)"></div>
<div class="kb" style="left:90px;top:825px;width:9px;background:rgb(210,210,212)"></div>
<div class="kb" style="left:90px;top:834px;width:9px;background:rgb(247,247,247)"></div>
<div class="kb" style="left:99px;top:825px;width:9px;background:rgb(219,219,223)"></div>
<div class="kb" style="left:99px;top:834px;width:9px;background:rgb(243,243,243)"></div>
<div class="kb" style="left:108px;top:825px;width:9px;background:rgb(202,202,203)"></div>
<div class="kb" style="left:108px;top:834px;width:9px;background:rgb(237,237,237)"></div>
<div class="kb" style="left:117px;top:825px;width:9px;background:rgb(215,215,213)"></div>
<div class="kb" style="left:117px;top:834px;width:9px;background:rgb(247,247,247)"></div>
<div class="kb" style="left:126px;top:825px;width:9px;background:rgb(201,201,202)"></div>
<div class="kb" style="left:126px;top:834px;width:9px;background:rgb(247,247,247)"></div>
<div class="kb" style="left:135px;top:825px;width:9px;background:rgb(220,220,224)"></div>
<div class="kb" style="left:135px;top:834px;width:9px;background:rgb(245,245,245)"></div>
<div class="kb" style="left:144px;top:825px;width:9px;background:rgb(209,209,212)"></div>
<div class="kb" style="left:144px;top:834px;width:9px;background:rgb(247,247,247)"></div>
<div class="kb" style="left:153px;top:825px;width:9px;background:rgb(221,221,218)"></div>
<div class="kb" style="left:153px;top:834px;width:9px;background:rgb(241,241,241)"></div>
<div class="kb" style="left:162px;top:825px;width:9px;background:rgb(214,214,213)"></div>
<div class="kb" style="left:162px;top:834px;width:9px;background:rgb(241,241,241)"></div>
<div class="kb" style="left:171px;top:825px;width:9px;background:rgb(219,219,223)"></div>
<div class="kb" style="left:171px;top:834px;width:9px;background:rgb(237,237,237)"></div>
<div class="kb" style="left:180px;top:825px;width:9px;background:rgb(201,201,202)"></div>
<div class="kb" style="left:180px;top:834px;width:9px;background:rgb(239,239,239)"></div>
<div class="kb" style="left:189px;top:825px;width:9px;background:rgb(204,204,204)"></div>
<div class="kb" style="left:189px;top:834px;width:9px;background:rgb(247,247,247)"></div>
<div class="kb" style="left:198px;top:825px;width:9px;background:rgb(212,212,216)"></div>
<div class="kb" style="left:198px;top:834px;width:9px;background:rgb(242,242,242)"></div>
<div class="kb" style="left:207px;top:825px;width:9px;background:rgb(202,202,206)"></div>
<div class="kb" style="left:207px;top:834px;width:9px;background:rgb(238,238,238)"></div>
<div class="kb" style="left:216px;top:825px;width:9px;background:rgb(212,212,213)"></div>
<div class="kb" style="left:216px;top:834px;width:9px;background:rgb(244,244,244)"></div>
<div class="kb" style="left:225px;top:825px;width:9px;background:rgb(204,204,209)"></div>
<div class="kb" style="left:225px;top:834px;width:9px;background:rgb(242,242,242)"></div>
<div class="kb" style="left:234px;top:825px;width:9px;background:rgb(208,208,211)"></div>
<div class="kb" style="left:234px;top:834px;width:9px;background:rgb(247,247,247)"></div>
<div class="kb" style="left:243px;top:825px;width:9px;background:rgb(211,211,214)"></div>
<div class="kb" style="left:243px;top:834px;width:9px;background:rgb(246,246,246)"></div>
<div class="kb" style="left:252px;top:825px;width:9px;background:rgb(207,207,205)"></div>
<div class="kb" style="left:252px;top:834px;width:9px;background:rgb(238,238,238)"></div>
<div class="kb" style="left:261px;top:825px;width:9px;background:rgb(205,205,205)"></div>
<div class="kb" style="left:261px;top:834px;width:9px;background:rgb(238,238,238)"></div>
<div class="kb" style="left:270px;top:825px;width:9px;background:rgb(221,221,218)"></div>
<div class="kb" style="left:270px;top:834px;width:9px;background:rgb(239,239,239)"></div>
<div class="kb" style="left:279px;top:825px;width:9px;background:rgb(215,215,214)"></div>
<div class="kb" style="left:279px;top:834px;width:9px;background:rgb(245,245,245)"></div>
<div class="kb" style="left:288px;top:825px;width:9px;background:rgb(208,208,205)"></div>
<div class="kb" style="left:288px;top:834px;width:9px;background:rgb(240,240,240)"></div>
<div class="kb" style="left:297px;top:825px;width:9px;background:rgb(204,204,209)"></div>
<div class="kb" style="left:297px;top:834px;width:9px;background:rgb(242,242,242)"></div>
<div class="kb" style="left:306px;top:825px;width:9px;background:rgb(211,211,213)"></div>
<div class="kb" style="left:306px;top:834px;width:9px;background:rgb(245,245,245)"></div>
<div class="kb" style="left:315px;top:825px;width:9px;background:rgb(204,204,209)"></div>
<div class="kb" style="left:315px;top:834px;width:9px;background:rgb(247,247,247)"></div>
<div class="kb" style="left:324px;top:825px;width:9px;background:rgb(219,219,216)"></div>
<div class="kb" style="left:324px;top:834px;width:9px;background:rgb(246,246,246)"></div>
<div class="kb" style="left:333px;top:825px;width:9px;background:rgb(214,214,219)"></div>
<div class="kb" style="left:333px;top:834px;width:9px;background:rgb(248,248,248)"></div>
<div class="kb" style="left:342px;top:825px;width:9px;background:rgb(212,212,215)"></div>
<div class="kb" style="left:342px;top:834px;width:9px;background:rgb(242,242,242)"></div>
<div class="kb" style="left:351px;top:825px;width:9px;background:rgb(212,212,216)"></div>
<div class="kb" style="left:351px;top:834px;width:9px;background:rgb(237,237,237)"></div>
<div class="kb" style="left:360px;top:825px;width:9px;background:rgb(220,220,217)"></div>
<div class="kb" style="left:360px;top:834px;width:9px;background:rgb(242,242,242)"></div>
<div class="kb" style="left:369px;top:825px;width:9px;background:rgb(206,206,206)"></div>
<div class="kb" style="left:369px;top:834px;width:9px;background:rgb(237,237,237)"></div>
<div class="kb" style="left:378px;top:825px;width:9px;background:rgb(214,214,212)"></div>
<div class="kb" style="left:378px;top:834px;width:9px;background:rgb(238,238,238)"></div>
<div class="kb" style="left:387px;top:825px;width:9px;background:rgb(210,210,207)"></div>
<div class="kb" style="left:387px;top:834px;width:9px;background:rgb(245,245,245)"></div>
<div class="kb" style="left:396px;top:825px;width:5px;background:rgb(203,203,202)"></div>
<div class="kb" style="left:396px;top:834px;width:5px;background:rgb(236,236,236)"></div>
<div class="kb" style="left:45px;top:852px;width:9px;background:rgb(217,217,219)"></div>
<div class="kb" style="left:45px;top:861px;width:9px;background:rgb(237,237,237)"></div>
<div class="kb" style="left:54px;top:852px;width:9px;background:rgb(219,219,217)"></div>
<div class="kb" style="left:54px;top:861px;width:9px;background:rgb(236,236,236)"></div>
<div class="kb" style="left:63px;top:852px;width:9px;background:rgb(206,206,209)"></div>
<div class="kb" style="left:63px;top:861px;width:9px;background:rgb(245,245,245)"></div>
<div class="kb" style="left:72px;top:852px;width:9px;background:rgb(204,204,205)"></div>
<div class="kb" style="left:72px;top:861px;width:9px;background:rgb(246,246,246)"></div>
<div class="kb" style="left:81px;top:852px;width:9px;background:rgb(211,211,213)"></div>
<div class="kb" style="left:81px;top:861px;width:9px;background:rgb(245,245,245)"></div>
<div class="kb" style="left:90px;top:852px;width:9px;background:rgb(215,215,213)"></div>
<div class="kb" style="left:90px;top:861px;width:9px;background:rgb(237,237,237)"></div>
<div class="kb" style="left:99px;top:852px;width:9px;background:rgb(215,215,219)"></div>
<div class="kb" style="left:99px;top:861px;width:9px;background:rgb(243,243,243)"></div>
<div class="kb" style="left:108px;top:852px;width:9px;background:rgb(215,215,213)"></div>
<div class="kb" style="left:108px;top:861px;width:9px;background:rgb(240,240,240)"></div>
<div class="kb" style="left:117px;top:852px;width:9px;background:rgb(204,204,206)"></div>
<div class="kb" style="left:117px;top:861px;width:9px;background:rgb(237,237,237)"></div>
<div class="kb" style="left:45px;top:879px;width:9px;background:rgb(208,208,207)"></div>
<div class="kb" style="left:54px;top:879px;width:9px;background:rgb(216,216,216)"></div>
<div class="kb" style="left:63px;top:879px;width:9px;background:rgb(216,216,215)"></div>
<div class="kb" style="left:72px;top:879px;width:9px;background:rgb(222,222,219)"></div>
</body></html>
